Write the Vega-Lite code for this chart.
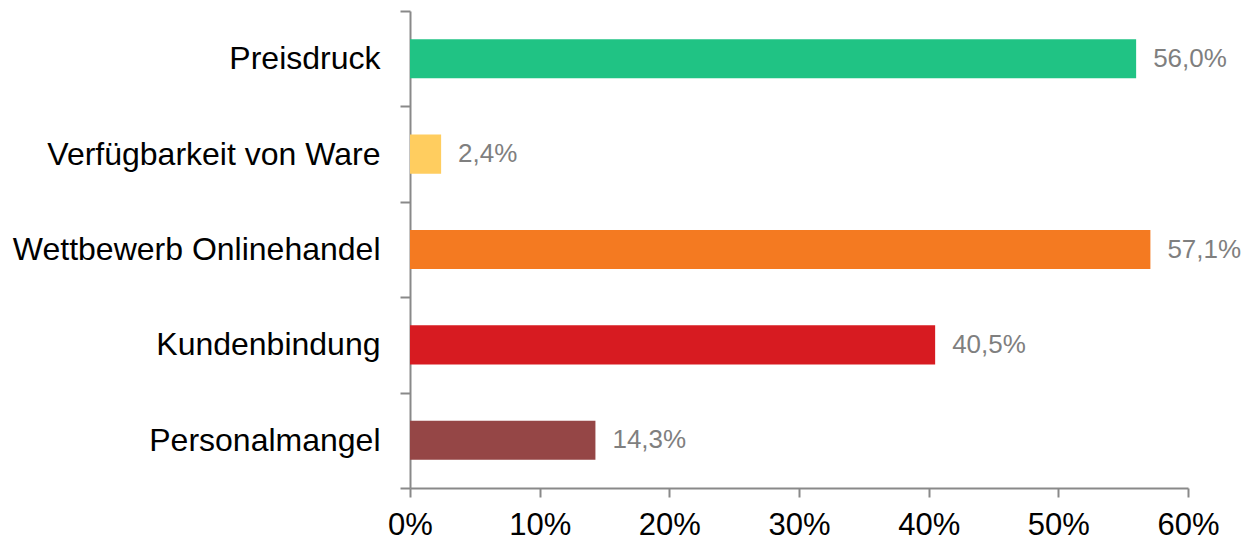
{
  "$schema": "https://vega.github.io/schema/vega-lite/v6.json",
  "width": 778,
  "height": 477,
  "autosize": {"type": "none"},
  "padding": {"left": 410, "top": 11, "right": 55, "bottom": 53},
  "background": "white",
  "config": {
    "view": {"stroke": null},
    "locale": {"number": {"decimal": ",", "thousands": ".", "grouping": [3], "currency": ["", " €"]}}
  },
  "data": {
    "values": [
      {"kategorie": "Preisdruck", "wert": 0.560},
      {"kategorie": "Verfügbarkeit von Ware", "wert": 0.024},
      {"kategorie": "Wettbewerb Onlinehandel", "wert": 0.571},
      {"kategorie": "Kundenbindung", "wert": 0.405},
      {"kategorie": "Personalmangel", "wert": 0.143}
    ]
  },
  "encoding": {
    "y": {
      "field": "kategorie",
      "type": "nominal",
      "sort": null,
      "scale": {"paddingInner": 0, "paddingOuter": 0},
      "axis": {
        "title": null,
        "tickBand": "extent",
        "domainColor": "#898989",
        "domainWidth": 2,
        "tickColor": "#898989",
        "tickWidth": 2,
        "tickSize": 10,
        "labelPadding": 20,
        "labelFont": "Liberation Sans",
        "labelFontSize": 32,
        "labelColor": "#000000",
        "labelLimit": 600
      }
    },
    "x": {
      "field": "wert",
      "type": "quantitative",
      "scale": {"domain": [0, 0.6], "nice": false},
      "axis": {
        "title": null,
        "format": ".0%",
        "values": [0, 0.1, 0.2, 0.3, 0.4, 0.5, 0.6],
        "grid": false,
        "domainColor": "#898989",
        "domainWidth": 2,
        "tickColor": "#898989",
        "tickWidth": 2,
        "tickSize": 9,
        "labelPadding": 13,
        "labelFont": "Liberation Sans",
        "labelFontSize": 31,
        "labelColor": "#000000",
        "labelFlush": false,
        "labelOverlap": false
      }
    }
  },
  "layer": [
    {
      "mark": {"type": "bar", "height": {"band": 0.41}},
      "encoding": {
        "color": {
          "field": "kategorie",
          "type": "nominal",
          "legend": null,
          "scale": {
            "domain": ["Preisdruck", "Verfügbarkeit von Ware", "Wettbewerb Onlinehandel", "Kundenbindung", "Personalmangel"],
            "range": ["#20C384", "#FFCD5F", "#F47A21", "#D71B21", "#954646"]
          }
        }
      }
    },
    {
      "mark": {"type": "text", "align": "left", "baseline": "middle", "dx": 17, "font": "Liberation Sans", "fontSize": 26, "color": "#7f7f7f"},
      "encoding": {
        "text": {"field": "wert", "type": "quantitative", "format": ".1%"}
      }
    }
  ]
}
